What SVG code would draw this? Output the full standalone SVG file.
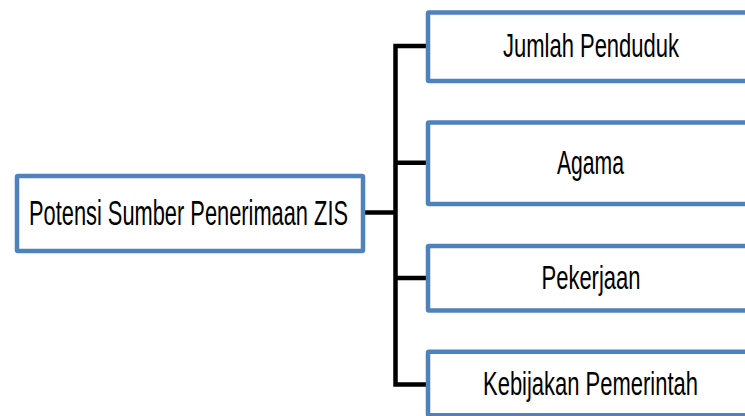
<svg xmlns="http://www.w3.org/2000/svg" width="745" height="416" viewBox="0 0 745 416">
<style>
.box{fill:#ffffff;stroke:#4F81BD;stroke-width:4.5}
.lbl{font-family:"Liberation Sans","DejaVu Sans",sans-serif;fill:#000000;text-anchor:middle;font-size:20px}
.con{fill:none;stroke:#000000;stroke-width:4.5;stroke-linejoin:miter}
</style>
<rect width="745" height="416" fill="#ffffff"/>
<g id="connectors">
<path class="con" d="M363 212.5 H396"/>
<path class="con" d="M428 46 H395.5 V384.5 H428"/>
<path class="con" d="M395.5 162.7 H428"/>
<path class="con" d="M395.5 278 H428"/>
</g>
<g id="root">
<rect class="box" x="17" y="176" width="346" height="75" rx="1"/>
<text class="lbl" transform="translate(188.5 225) scale(1 1.75)" x="0" y="0" textLength="319" lengthAdjust="spacingAndGlyphs">Potensi Sumber Penerimaan ZIS</text>
</g>
<g id="n1">
<rect class="box" x="428" y="12.5" width="320" height="68.5" rx="1"/>
<text class="lbl" transform="translate(591 57) scale(1 1.63)" x="0" y="0" textLength="176" lengthAdjust="spacingAndGlyphs">Jumlah Penduduk</text>
</g>
<g id="n2">
<rect class="box" x="428" y="122.5" width="320" height="81.5" rx="1"/>
<text class="lbl" transform="translate(590.5 174) scale(1 1.63)" x="0" y="0" textLength="67" lengthAdjust="spacingAndGlyphs">Agama</text>
</g>
<g id="n3">
<rect class="box" x="428" y="246" width="320" height="64.5" rx="1"/>
<text class="lbl" transform="translate(591 289) scale(1 1.63)" x="0" y="0" textLength="99" lengthAdjust="spacingAndGlyphs">Pekerjaan</text>
</g>
<g id="n4">
<rect class="box" x="428" y="351.7" width="320" height="63.5" rx="1"/>
<text class="lbl" transform="translate(590.5 395) scale(1 1.63)" x="0" y="0" textLength="215" lengthAdjust="spacingAndGlyphs">Kebijakan Pemerintah</text>
</g>
</svg>
